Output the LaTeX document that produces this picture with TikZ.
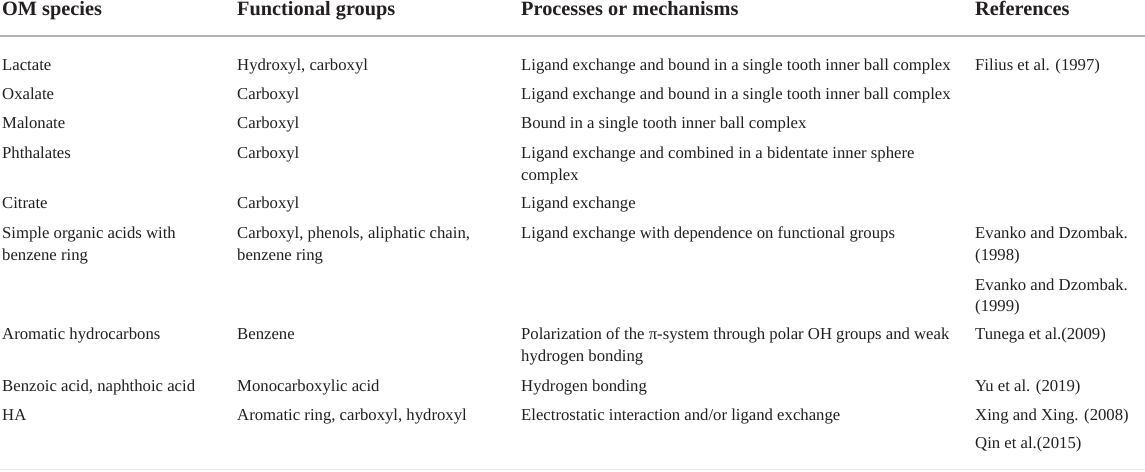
\documentclass[tikz,border=0pt]{standalone}
\usepackage{fontspec}
\setmainfont{Liberation Serif}
\definecolor{txt}{HTML}{231F20}
\definecolor{rulehead}{HTML}{B4B4B4}
\definecolor{rulefoot}{HTML}{E6E6E6}
\begin{document}
\begin{tikzpicture}[x=1pt,y=-1pt,
  cell/.style={anchor=base west,inner sep=0pt,text=txt,font=\fontsize{16.7}{22}\selectfont},
  head/.style={anchor=base west,inner sep=0pt,text=txt,font=\fontsize{20.3}{24}\selectfont\bfseries},
  hrule/.style={draw=rulehead,line width=2pt},
  frule/.style={draw=rulefoot,line width=1.5pt}]
\useasboundingbox (0,0) rectangle (1145,471);
% header
\node[head] (h1) at (2,16) {OM species};
\node[head] (h2) at (237,16) {Functional groups};
\node[head] (h3) at (521,16) {Processes or mechanisms};
\node[head] (h4) at (975,16) {References};
\coordinate (hl) at (0,36);
\coordinate (hr) at (1145,36);
\draw[hrule] (hl) -- (hr);
% row 1
\node[cell] (a1) at (2,70) {Lactate};
\node[cell] (b1) at (237,70) {Hydroxyl, carboxyl};
\node[cell] (c1) at (521,70) {Ligand exchange and bound in a single tooth inner ball complex};
\node[cell] (d1) at (975,70) {Filius et al. (1997)};
% row 2
\node[cell] (a2) at (2,99) {Oxalate};
\node[cell] (b2) at (237,99) {Carboxyl};
\node[cell] (c2) at (521,99) {Ligand exchange and bound in a single tooth inner ball complex};
% row 3
\node[cell] (a3) at (2,128) {Malonate};
\node[cell] (b3) at (237,128) {Carboxyl};
\node[cell] (c3) at (521,128) {Bound in a single tooth inner ball complex};
% row 4
\node[cell] (a4) at (2,158) {Phthalates};
\node[cell] (b4) at (237,158) {Carboxyl};
\node[cell] (c4a) at (521,158) {Ligand exchange and combined in a bidentate inner sphere};
\node[cell] (c4b) at (521,180) {complex};
% row 5
\node[cell] (a5) at (2,208) {Citrate};
\node[cell] (b5) at (237,208) {Carboxyl};
\node[cell] (c5) at (521,208) {Ligand exchange};
% row 6
\node[cell] (a6a) at (2,238) {Simple organic acids with};
\node[cell] (a6b) at (2,260) {benzene ring};
\node[cell] (b6a) at (237,238) {Carboxyl, phenols, aliphatic chain,};
\node[cell] (b6b) at (237,260) {benzene ring};
\node[cell] (c6) at (521,238) {Ligand exchange with dependence on functional groups};
\node[cell] (d6a) at (975,238) {Evanko and Dzombak.};
\node[cell] (d6b) at (975,260) {(1998)};
\node[cell] (d6c) at (975,290) {Evanko and Dzombak.};
\node[cell] (d6d) at (975,311) {(1999)};
% row 7
\node[cell] (a7) at (2,339) {Aromatic hydrocarbons};
\node[cell] (b7) at (237,339) {Benzene};
\node[cell] (c7a) at (521,339) {Polarization of the π-system through polar OH groups and weak};
\node[cell] (c7b) at (521,361) {hydrogen bonding};
\node[cell] (d7) at (975,339) {Tunega et al.(2009)};
% row 8
\node[cell] (a8) at (2,391) {Benzoic acid, naphthoic acid};
\node[cell] (b8) at (237,391) {Monocarboxylic acid};
\node[cell] (c8) at (521,391) {Hydrogen bonding};
\node[cell] (d8) at (975,391) {Yu et al. (2019)};
% row 9
\node[cell] (a9) at (2,420) {HA};
\node[cell] (b9) at (237,420) {Aromatic ring, carboxyl, hydroxyl};
\node[cell] (c9) at (521,420) {Electrostatic interaction and/or ligand exchange};
\node[cell] (d9a) at (975,420) {Xing and Xing. (2008)};
\node[cell] (d9b) at (975,448) {Qin et al.(2015)};
% bottom rule
\coordinate (fl) at (0,469.5);
\coordinate (fr) at (1145,469.5);
\draw[frule] (fl) -- (fr);
\end{tikzpicture}
\end{document}
